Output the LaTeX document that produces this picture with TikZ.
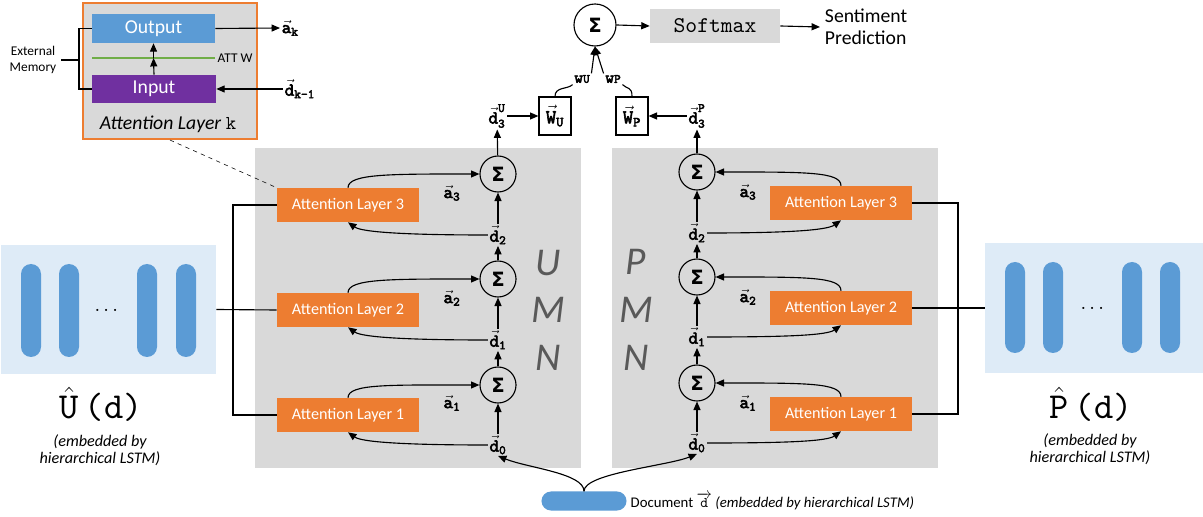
\documentclass[tikz,border=0pt]{standalone}
\usepackage{amsmath,fontspec}
\setmainfont{Carlito}
\setmonofont{lmmono10-regular.otf}[BoldFont=lmmono10-regular.otf,BoldFeatures={FakeBold=3}]
\newfontfamily\sigmafont{DejaVu Sans}
\usetikzlibrary{arrows.meta}
\definecolor{attorange}{HTML}{ED7D31}
\definecolor{cellblue}{HTML}{5B9BD5}
\definecolor{inpurple}{HTML}{7030A0}
\definecolor{attgreen}{HTML}{70AD47}
\definecolor{panelgray}{HTML}{D9D9D9}
\definecolor{embblue}{HTML}{DEEBF7}
\definecolor{lettergray}{HTML}{595959}
\newcommand{\vlab}[2]{$\vec{\text{\ttfamily\bfseries #1}}_{\text{\ttfamily\bfseries #2}}$}

\begin{document}
\begin{tikzpicture}
	[x=0.025cm,y=0.025cm,
	 attbox/.style={fill=attorange,text=white,minimum width=3.55cm,minimum height=0.85cm,inner sep=0pt,font=\fontsize{11.5}{13}\selectfont},
	 sumnode/.style={circle,draw=black,line width=0.8pt,minimum size=0.9cm,inner sep=0pt,font=\sigmafont\bfseries\fontsize{14}{14}\selectfont},
	 veclab/.style={inner sep=1pt,font=\fontsize{13}{15}\selectfont},
	 wbox/.style={draw=black,line width=0.8pt,minimum width=0.8cm,minimum height=0.95cm,inner sep=0pt,font=\fontsize{14}{16}\selectfont},
	 embbox/.style={fill=embblue,inner sep=0pt},
	 embnote/.style={align=center,font=\fontsize{11.5}{12.5}\selectfont\itshape},
	 umn/.style={text=lettergray,font=\fontsize{28}{30}\selectfont\itshape},
	 arr/.style={-{Triangle[length=6pt,width=5pt]},line width=0.8pt}]
    \useasboundingbox[fill=white] (0,0) rectangle (1203,-517);
    % memory panels
    \fill[panelgray] (255,-148) rectangle (581,-468);
    \fill[panelgray] (612,-148) rectangle (938,-468);
    % embeddings
    \node[embbox,minimum width=5.375cm,minimum height=3.225cm] at (108.5,-309.5) (uemb) {};
    \node[embbox,minimum width=5.45cm,minimum height=3.25cm] at (1094,-308) (pemb) {};
    \fill[cellblue,rounded corners=0.25cm] (21,-264) rectangle ++(20,-93);
    \fill[cellblue,rounded corners=0.25cm] (59,-264) rectangle ++(20,-93);
    \fill[cellblue,rounded corners=0.25cm] (137,-264) rectangle ++(20,-93);
    \fill[cellblue,rounded corners=0.25cm] (176,-264) rectangle ++(20,-93);
    \fill[cellblue,rounded corners=0.25cm] (1005,-262) rectangle ++(20,-91);
    \fill[cellblue,rounded corners=0.25cm] (1043,-262) rectangle ++(20,-91);
    \fill[cellblue,rounded corners=0.25cm] (1122,-262) rectangle ++(20,-91);
    \fill[cellblue,rounded corners=0.25cm] (1160,-262) rectangle ++(20,-91);
    \node at (108,-311) (udots) {\Large$\cdots$};
    \node at (1094,-309) (pdots) {\Large$\cdots$};
    \node[font=\fontsize{26}{28}\selectfont] at (101,-404) (uhat) {$\hat{\text{\ttfamily U}}$\,\texttt{(d)}};
    \node[font=\fontsize{26}{28}\selectfont] at (1091,-404) (phat) {$\hat{\text{\ttfamily P}}$\,\texttt{(d)}};
    \node[embnote] at (100,-450) (unote) {(embedded by\\hierarchical LSTM)};
    \node[embnote] at (1090,-449) (pnote) {(embedded by\\hierarchical LSTM)};
    % attention layer k
    \node[fill=panelgray,draw=attorange,line width=1.5pt,minimum width=4.35cm,minimum height=3.4cm,inner sep=0pt] at (170,-71) (kbox) {};
    \node[fill=cellblue,text=white,minimum width=3.075cm,minimum height=0.725cm,inner sep=0pt,font=\fontsize{14}{16}\selectfont] at (153.5,-28.5) (outp) {Output};
    \node[fill=inpurple,text=white,minimum width=3.1cm,minimum height=0.7cm,inner sep=0pt,font=\fontsize{14}{16}\selectfont] at (154,-89) (inp) {Input};
    \draw[attgreen,line width=2pt] (92,-58) -- (215,-58);
    \coordinate (attw) at (153.5,-58);
    \node[anchor=west,inner sep=1pt,font=\fontsize{9.5}{11}\selectfont] at (216,-58) (attwlab) {ATT W};
    \draw[arr] (inp.north) -- (attw);
    \draw[arr] (attw) -- (outp.south);
    \node[font=\fontsize{14}{16}\selectfont\itshape] at (168,-124) (klab) {Attention Layer \texttt{\upshape k}};
    \node[align=center,font=\fontsize{9.5}{11.5}\selectfont] at (33,-60) (extmem) {External\\Memory};
    \coordinate (brk) at (79,-60);
    \draw[line width=0.8pt] (outp.west) -| (brk) |- (inp.west);
    \draw[line width=0.8pt] (extmem.east) -- (brk);
    \node[veclab,anchor=west] at (280,-28) (ak) {\vlab{a}{k}};
    \node[veclab,anchor=west] at (283,-89) (dk) {\vlab{d}{k-1}};
    \draw[arr] (outp.east) -- (ak.west);
    \draw[arr] (dk.west) -- (inp.east);
    % UMN column
    \node[attbox] at (348,-205) (L3) {Attention Layer 3};
    \node[attbox] at (348,-310) (L2) {Attention Layer 2};
    \node[attbox] at (348,-415) (L1) {Attention Layer 1};
    \node[sumnode] at (498,-174) (S3) {Σ};
    \node[sumnode] at (498,-279) (S2) {Σ};
    \node[sumnode] at (498,-385) (S1) {Σ};
    \node[veclab] at (498,-235) (D2) {\vlab{d}{2}};
    \node[veclab] at (498,-340) (D1) {\vlab{d}{1}};
    \node[veclab] at (498,-445) (D0) {\vlab{d}{0}};
    \node[veclab] at (452,-193) (A3) {\vlab{a}{3}};
    \node[veclab] at (452,-298) (A2) {\vlab{a}{2}};
    \node[veclab] at (452,-403) (A1) {\vlab{a}{1}};
    \draw[arr] (D0) -- (S1);
    \draw[arr] (S1) -- (D1);
    \draw[arr] (D1) -- (S2);
    \draw[arr] (S2) -- (D2);
    \draw[arr] (D2) -- (S3);
    \draw[arr] (L3.north) .. controls +(0,14) and +(-90,0) .. (S3.west);
    \draw[arr] (L2.north) .. controls +(0,14) and +(-90,0) .. (S2.west);
    \draw[arr] (L1.north) .. controls +(0,14) and +(-90,0) .. (S1.west);
    \draw[arr] (D2.west) .. controls +(-80,0) and +(14,-10) .. (L3.south);
    \draw[arr] (D1.west) .. controls +(-80,0) and +(14,-10) .. (L2.south);
    \draw[arr] (D0.west) .. controls +(-80,0) and +(14,-10) .. (L1.south);
    \coordinate (lbr) at (233,-310);
    \draw[line width=0.8pt] (L3.west) -| (lbr) |- (L1.west);
    \draw[line width=0.8pt] (L2.west) -- (uemb.east);
    \node[umn] at (548,-263) (lu) {U};
    \node[umn] at (548,-310) (lm) {M};
    \node[umn] at (548,-358) (ln) {N};
    % PMN column
    \node[attbox] at (841,-203) (R3) {Attention Layer 3};
    \node[attbox] at (841,-308) (R2) {Attention Layer 2};
    \node[attbox] at (841,-414) (R1) {Attention Layer 1};
    \node[sumnode] at (697,-172) (Sr3) {Σ};
    \node[sumnode] at (697,-277) (Sr2) {Σ};
    \node[sumnode] at (697,-383) (Sr1) {Σ};
    \node[veclab] at (697,-233) (Dr2) {\vlab{d}{2}};
    \node[veclab] at (697,-337) (Dr1) {\vlab{d}{1}};
    \node[veclab] at (697,-443) (Dr0) {\vlab{d}{0}};
    \node[veclab] at (748,-192) (Ar3) {\vlab{a}{3}};
    \node[veclab] at (748,-297) (Ar2) {\vlab{a}{2}};
    \node[veclab] at (748,-403) (Ar1) {\vlab{a}{1}};
    \draw[arr] (Dr0) -- (Sr1);
    \draw[arr] (Sr1) -- (Dr1);
    \draw[arr] (Dr1) -- (Sr2);
    \draw[arr] (Sr2) -- (Dr2);
    \draw[arr] (Dr2) -- (Sr3);
    \draw[arr] (R3.north) .. controls +(0,14) and +(90,0) .. (Sr3.east);
    \draw[arr] (R2.north) .. controls +(0,14) and +(90,0) .. (Sr2.east);
    \draw[arr] (R1.north) .. controls +(0,14) and +(90,0) .. (Sr1.east);
    \draw[arr] (Dr2.east) .. controls +(80,0) and +(-14,-10) .. (R3.south);
    \draw[arr] (Dr1.east) .. controls +(80,0) and +(-14,-10) .. (R2.south);
    \draw[arr] (Dr0.east) .. controls +(80,0) and +(-14,-10) .. (R1.south);
    \coordinate (rbr) at (958,-308);
    \draw[line width=0.8pt] (R3.east) -| (rbr) |- (R1.east);
    \draw[line width=0.8pt] (R2.east) -- (pemb.west);
    \node[umn] at (636,-262) (rp) {P};
    \node[umn] at (636,-310) (rm) {M};
    \node[umn] at (636,-358) (rn) {N};
    % output part
    \node[veclab] at (497,-116) (d3u) {$\vec{\text{\ttfamily\bfseries d}}^{\text{\ttfamily\bfseries U}}_{\text{\ttfamily\bfseries 3}}$};
    \node[veclab] at (697,-116) (d3p) {$\vec{\text{\ttfamily\bfseries d}}^{\text{\ttfamily\bfseries P}}_{\text{\ttfamily\bfseries 3}}$};
    \node[wbox] at (555,-116) (WU) {$\vec{\text{\ttfamily\bfseries W}}_{\text{\ttfamily\bfseries U}}$};
    \node[wbox] at (632,-116) (WP) {$\vec{\text{\ttfamily\bfseries W}}_{\text{\ttfamily\bfseries P}}$};
    \draw[arr] (S3) -- (d3u);
    \draw[arr] (Sr3) -- (d3p);
    \draw[arr] (d3u.east) -- (WU.west);
    \draw[arr] (d3p.west) -- (WP.east);
    \node[sumnode,minimum size=1.05cm] at (595,-25) (sum) {Σ};
    \node[inner sep=1pt,font=\fontsize{12}{13}\selectfont] at (582,-79) (wu) {\texttt{\bfseries w\fontsize{9}{10}\selectfont U}};
    \node[inner sep=1pt,font=\fontsize{12}{13}\selectfont] at (613,-79) (wp) {\texttt{\bfseries w\fontsize{9}{10}\selectfont P}};
    \draw[line width=0.8pt] (WU.north) .. controls +(0,10) and +(-5,-5) .. (wu.south west);
    \draw[line width=0.8pt] (WP.north) .. controls +(0,10) and +(5,-5) .. (wp.south east);
    \draw[arr] (wu.north east) -- (sum.south);
    \draw[arr] (wp.north west) -- (sum.south);
    \node[fill=panelgray,minimum width=3.25cm,minimum height=0.85cm,font=\ttfamily\fontsize{16}{18}\selectfont] at (715,-26) (soft) {Softmax};
    \node[anchor=west,align=left,font=\fontsize{14}{16}\selectfont] at (820,-27) (pred) {Sentiment\\Prediction};
    \draw[arr] (sum.east) -- (soft.west);
    \draw[arr] (soft.east) -- (pred.west);
    \draw[dashed] (kbox.south) -- (L3.north west);
    % document
    \node[fill=cellblue,rounded corners=0.2375cm,minimum width=2.125cm,minimum height=0.475cm,inner sep=0pt] at (584,-501) (doc) {};
    \node[anchor=west,inner sep=1pt,font=\fontsize{10.5}{12}\selectfont] at (629,-501) (doctxt) {Document $\overrightarrow{\text{\ttfamily d}}$ \textit{(embedded by hierarchical LSTM)}};
    \draw[arr] (doc.north) .. controls +(0,18) and +(30,-12) .. (D0.south);
    \draw[arr] (doc.north) .. controls +(0,18) and +(-30,-12) .. (Dr0.south);
\end{tikzpicture}
\end{document}
